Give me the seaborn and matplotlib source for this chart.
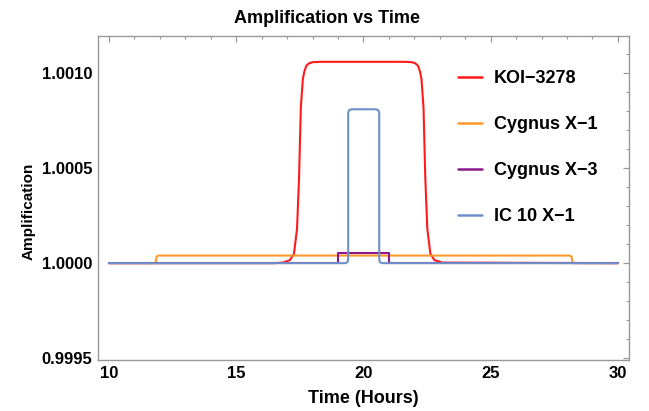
import pandas as pd
import seaborn as sns
import matplotlib.pyplot as plt
from matplotlib.ticker import MultipleLocator

# curve points (time in hours, amplification)
koi_t = [10, 16.5, 16.84, 17.11, 17.27, 17.39, 17.47, 17.54, 17.62, 17.68, 17.76, 17.86, 18.0, 18.3,
         21.6, 21.9, 22.04, 22.14, 22.22, 22.28, 22.36, 22.43, 22.51, 22.63, 22.79, 23.1, 30]
koi_a = [1.0, 1.0, 1.000003, 1.000016, 1.00005, 1.00018, 1.00045, 1.00082, 1.00097, 1.00101, 1.00104,
         1.001052, 1.001058, 1.00106,
         1.00106, 1.001058, 1.001052, 1.00104, 1.00101, 1.00097, 1.00082, 1.00045, 1.00018, 1.00005,
         1.000016, 1.000003, 1.0]

cyg1_t = [10, 11.80, 11.85, 11.87, 11.95, 28.10, 28.18, 28.20, 28.25, 30]
cyg1_a = [1.0, 1.0, 1.000012, 1.000035, 1.00004, 1.00004, 1.000035, 1.000012, 1.0, 1.0]

cyg3_t = [10, 19.0, 19.0, 21.0, 21.0, 30]
cyg3_a = [1.0, 1.0, 1.000055, 1.000055, 1.0, 1.0]

ic10_t = [10, 19.28, 19.36, 19.39, 19.40, 19.40, 19.43, 19.52,
          20.50, 20.59, 20.62, 20.62, 20.63, 20.66, 20.74, 30]
ic10_a = [1.0, 1.0, 1.000004, 1.000012, 1.00003, 1.00079, 1.000805, 1.00081,
          1.00081, 1.000805, 1.00079, 1.00003, 1.000012, 1.000004, 1.0, 1.0]

names = ['KOI\u22123278', 'Cygnus X\u22121', 'Cygnus X\u22123', 'IC 10 X\u22121']
colors = ['#ff1a1a', '#ff9a2a', '#8b1a8b', '#6e8fc9']

frames = []
for name, t, a in zip(names, [koi_t, cyg1_t, cyg3_t, ic10_t], [koi_a, cyg1_a, cyg3_a, ic10_a]):
    frames.append(pd.DataFrame({'Time': t, 'Amplification': a, 'source': name}))
df = pd.concat(frames, ignore_index=True)

sns.set_style('white')
plt.rcParams['font.family'] = ['Liberation Sans', 'DejaVu Sans']
plt.rcParams['font.weight'] = 'bold'
plt.rcParams['text.color'] = 'black'
plt.rcParams['axes.labelcolor'] = 'black'

fig = plt.figure(figsize=(6.49, 4.11), dpi=100)
ax = fig.add_axes([0.151, 0.124, 0.818, 0.788])

sns.lineplot(data=df, x='Time', y='Amplification', hue='source', palette=colors,
             sort=False, estimator=None, linewidth=1.5, ax=ax)

ax.set_xlim(9.57, 30.43)
ax.set_ylim(0.99949, 1.001195)
ax.xaxis.set_major_locator(MultipleLocator(5))
ax.xaxis.set_minor_locator(MultipleLocator(1))
ax.yaxis.set_major_locator(MultipleLocator(0.0005))
ax.yaxis.set_minor_locator(MultipleLocator(0.0001))
ax.yaxis.set_major_formatter(plt.FuncFormatter(lambda v, p: f'{v:.4f}'))

ax.tick_params(which='both', direction='in', top=True, right=True, color='#999999',
               labelsize=12, labelcolor='black', pad=4)
ax.tick_params(which='major', length=4, width=0.9)
ax.tick_params(which='minor', length=2.5, width=0.8)
for lab in ax.get_xticklabels() + ax.get_yticklabels():
    lab.set_fontweight('bold')
for sp in ax.spines.values():
    sp.set_color('#999999')
    sp.set_linewidth(1.0)

fig.text(0.504, 0.956, 'Amplification vs Time', fontsize=13, fontweight='bold',
         ha='center', va='center', color='black')
ax.set_xlabel('Time (Hours)', fontsize=13, fontweight='bold', labelpad=7)
ax.set_ylabel('Amplification', fontsize=11, fontweight='bold')
ax.yaxis.set_label_coords(-0.118, 0.46)

leg = ax.legend(loc='upper left', bbox_to_anchor=(0.661, 0.922), frameon=False,
                prop={'weight': 'bold', 'size': 13}, labelspacing=1.6,
                handlelength=1.33, handletextpad=0.67, borderpad=0)
for line in leg.get_lines():
    line.set_linewidth(1.8)
for txt in leg.get_texts():
    txt.set_color('black')

fig.savefig('out.png', dpi=100)
